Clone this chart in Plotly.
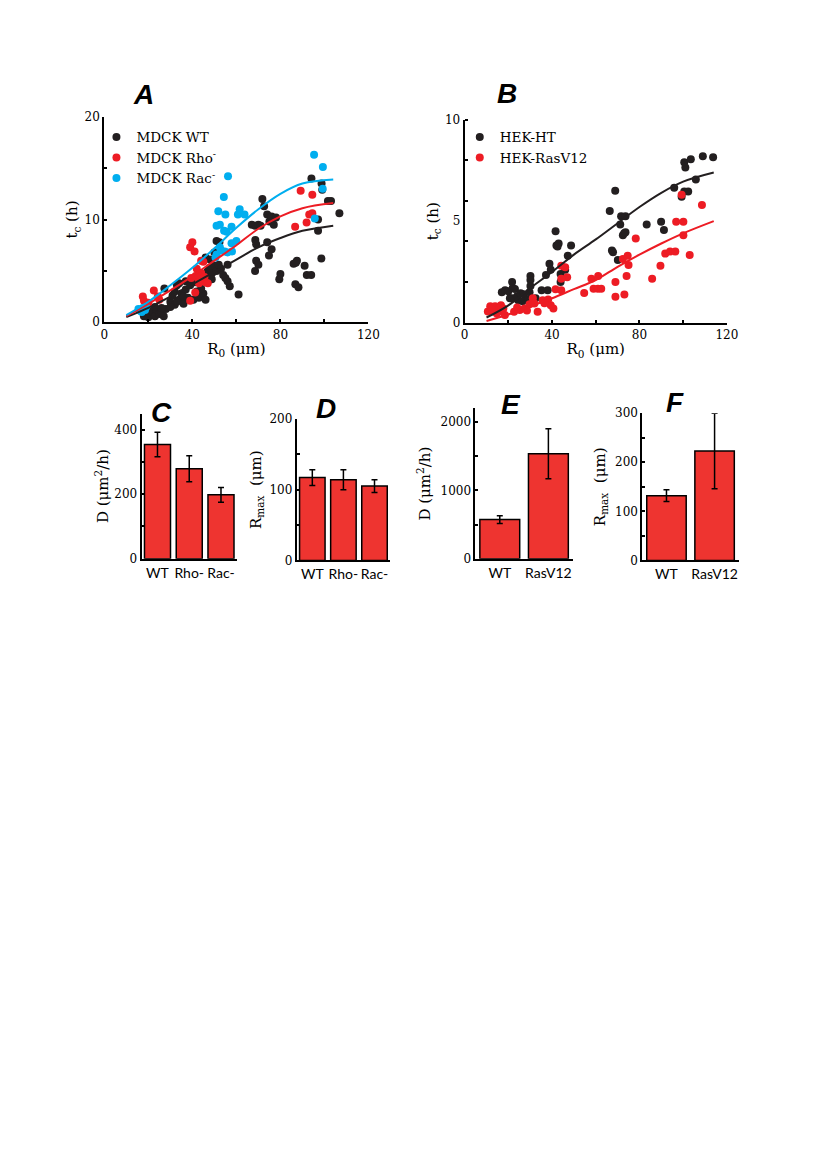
import plotly.graph_objects as go

W, H = 831, 1175
OFF = 8  # page body margin that the html adds around the figure

# ===== PANEL A: MDCK scatter data (R0 in um, tc in h) =====
wt_x = [18, 19, 20, 21, 22, 23, 24, 25, 26, 27, 28, 23, 20, 26, 27.3,
        30, 31, 32, 33, 34, 35, 36, 37, 38, 32, 34, 36, 30, 33,
        37, 39, 40, 41, 40.5, 42, 43, 45, 46, 44,
        46, 47, 48, 49, 50, 51, 52, 53, 54, 55, 56, 48, 50, 46, 51, 52.3, 51, 48.8,
        57, 56, 61,
        67, 68.5, 70, 71, 71.8, 72.6, 74, 75, 76, 77, 78, 68.6, 69, 74, 76, 74.8, 69, 70, 68.5,
        86, 87.5, 87, 91, 92, 94, 80, 79.5, 86.8, 88.2,
        94.1, 98.7, 99, 101.6, 103, 106.8, 97.1, 97.1, 98.6]
wt_y = [0.6, 0.9, 0.5, 0.8, 1.0, 0.6, 1.2, 0.8, 1.0, 0.6, 1.3, 1.5, 1.1, 1.4, 3.3,
        2.0, 2.6, 3.0, 3.6, 2.2, 2.8, 1.8, 3.2, 2.4, 1.7, 3.8, 2.5, 1.5, 2.0,
        4.0, 3.6, 4.2, 3.9, 2.2, 3.0, 2.4, 2.8, 2.2, 3.3,
        4.5, 5.0, 5.3, 4.8, 5.5, 5.0, 5.6, 5.2, 4.6, 4.3, 5.6, 6.1, 6.8, 6.3, 7.9, 7.8, 6.8, 4.2,
        3.5, 4.0, 2.7,
        9.5, 9.4, 9.5, 9.4, 12.0, 11.3, 10.5, 9.8, 10.3, 9.5, 10.2, 8.0, 7.6, 7.8, 7.1, 6.5, 6.0, 5.6, 5.0,
        5.7, 6.0, 5.8, 5.5, 4.6, 4.6, 4.7, 4.2, 3.7, 3.4,
        14.0, 13.5, 12.9, 11.8, 11.8, 10.6, 10.0, 8.9, 6.2]

rho_x = [17.5, 18, 22.5, 24.3, 20, 25, 39, 40, 41, 39.5, 41.5, 42, 43, 44, 45, 46,
         44, 43, 42.5, 39, 41.3, 47, 45.5, 45, 89.2, 94.5, 93.1, 94.5, 91.9, 86.7]
rho_y = [2.5, 2.1, 3.1, 2.5, 1.9, 2.2, 7.3, 7.8, 6.9, 4.3, 4.5, 5.2, 3.8, 4.8, 4.2, 3.9,
         6.0, 4.0, 4.6, 2.1, 2.9, 3.8, 4.4, 5.9, 12.8, 12.4, 10.5, 10.6, 9.7, 9.3]

rac_x = [15.5, 16.5, 17.5, 18.5, 19, 17,
         54.3, 56.2, 55, 51.8, 51, 52.5, 54.4, 57.8, 55.6, 50.5, 51, 52.5, 54.7, 57.8,
         60, 58, 60.7, 61.5, 63.7, 53, 56, 95.3, 99.3, 99.2, 95.6]
rac_y = [1.3, 1.1, 1.4, 1.2, 1.5, 1.0,
         12.2, 14.2, 10.5, 10.8, 9.4, 9.5, 8.9, 9.3, 8.8, 6.3, 6.6, 7.3, 6.9, 7.7,
         7.9, 6.9, 10.5, 11.0, 10.5, 7.0, 6.8, 16.3, 15.1, 13.0, 10.1]

# fitted curves
fit_a_x = [10, 20, 30, 40, 50, 60, 70, 80, 90, 104]
fit_wt_y = [0.5, 1.4, 2.5, 3.7, 4.9, 6.1, 7.3, 8.2, 8.9, 9.4]
fit_rho_y = [0.6, 1.8, 3.1, 4.5, 6.0, 7.5, 9.1, 10.3, 11.1, 11.6]
fit_rac_y = [0.7, 2.0, 3.6, 5.3, 7.2, 9.2, 11.0, 12.5, 13.5, 13.9]

# ===== PANEL B: HEK scatter data =====
ht_x = [17, 18.5, 20, 21.7, 22, 23, 20.7, 21.7, 24, 25.6, 27, 24.5, 26.5, 29, 32.5,
        30.1, 30.1, 30.1, 29.7, 35.2, 38, 37.2, 38.8, 39.4, 41.6, 42, 43, 42.5, 48.7,
        47.2, 46, 43.9, 43.9,
        66.4, 68.9, 67.4, 67.9, 70.1, 71.6, 73.6, 71.2, 72.4, 73, 73.6, 83.3, 89.9, 91.2,
        95.9, 99.3, 100.5, 102.3, 105.8, 100.5, 101, 103.5, 109, 113.7]
ht_y = [1.5, 1.6, 1.55, 2.0, 1.7, 1.65, 1.2, 1.2, 1.3, 1.45, 1.4, 1.1, 1.05, 1.15, 1.2,
        2.3, 2.1, 1.8, 1.5, 1.6, 1.6, 2.35, 2.9, 2.6, 4.5, 3.8, 3.9, 3.75, 3.8,
        3.3, 2.6, 2.4, 2.0,
        5.5, 6.5, 3.55, 3.47, 3.08, 5.24, 5.24, 4.84, 4.3, 4.4, 4.45, 4.84, 4.97, 4.56,
        6.65, 6.2, 6.46, 6.46, 7.06, 7.9, 7.65, 8.05, 8.2, 8.15]

ras_x = [10.6, 11.7, 13.2, 13.9, 15.4, 16.6, 17.2, 17.7, 14.7, 12.5, 18.4, 22.6, 25.2,
         27.4, 29.7, 31.2, 31.9, 33.4, 35.7, 38.2, 39.4, 40.6, 41.6, 44.2, 46, 46.9,
         44.2, 44.2, 24, 28.5, 36.5,
         54.7, 58, 59, 61, 62.5, 61.1, 69, 69, 72.4, 73.1, 74.1, 75, 74.6, 78.3, 85.8,
         89.6, 91.8, 94, 96.4, 96.8, 100.1, 100.1, 103, 99.3, 108.6]
ras_y = [0.55, 0.8, 0.55, 0.8, 0.7, 0.85, 0.55, 0.7, 0.45, 0.65, 0.37, 0.54, 0.62,
         0.7, 0.9, 1.2, 0.94, 0.54, 1.1, 1.14, 0.86, 0.7, 1.64, 2.8, 2.73, 2.24,
         1.6, 2.16, 0.75, 0.6, 0.95,
         1.46, 2.16, 1.67, 1.67, 1.67, 2.3, 2.0, 1.27, 3.13, 1.38, 2.3, 2.84, 3.3, 4.14, 2.16,
         2.8, 3.4, 3.5, 3.5, 4.97, 4.97, 4.3, 3.33, 6.3, 5.8]

fit_b_x = [10, 20, 30, 40, 50, 60, 70, 80, 90, 100, 114]
fit_ht_y = [0.25, 0.85, 1.7, 2.5, 3.35, 4.1, 4.9, 5.7, 6.4, 6.95, 7.4]
fit_ras_y = [0.08, 0.4, 0.8, 1.2, 1.65, 2.1, 2.75, 3.35, 3.9, 4.4, 5.0]

# ===== BAR PANELS =====
mdck_cats = ["WT", "Rho-", "Rac-"]
mdck_D = [354, 279, 198]
mdck_D_err = [38, 40, 23]
mdck_R = [117, 114, 105]
mdck_R_err = [11, 14, 9]

hek_cats = ["WT", "RasV12"]
hek_D = [573, 1537]
hek_D_err = [57, 366]
hek_R = [132, 223]
hek_R_err = [12, 77]

BLACK = "#231f20"
RED = "#ed1c24"
BLUE = "#00aeef"
BAR = "#ee3430"
SERIF = "DejaVu Serif"


def px_x(a, b):
    return [(a - OFF) / W, (b - OFF) / W]


def px_y(bottom, top):
    return [1 - (bottom - OFF) / H, 1 - (top - OFF) / H]


fig = go.Figure()

# scatter points
for xs, ys, col, name, ax, lg in [
    (wt_x, wt_y, BLACK, "MDCK WT", "", "legend"),
    (rho_x, rho_y, RED, "MDCK Rho<sup>-</sup>", "", "legend"),
    (rac_x, rac_y, BLUE, "MDCK Rac<sup>-</sup>", "", "legend"),
    (ht_x, ht_y, BLACK, "HEK-HT", "2", "legend2"),
    (ras_x, ras_y, RED, "HEK-RasV12", "2", "legend2"),
]:
    fig.add_trace(go.Scatter(x=xs, y=ys, mode="markers", name=name,
                             marker=dict(color=col, size=8),
                             xaxis="x" + ax, yaxis="y" + ax, legend=lg))

# fit lines
for xs, ys, col, ax in [
    (fit_a_x, fit_wt_y, BLACK, ""), (fit_a_x, fit_rho_y, RED, ""),
    (fit_a_x, fit_rac_y, BLUE, ""),
    (fit_b_x, fit_ht_y, BLACK, "2"), (fit_b_x, fit_ras_y, RED, "2"),
]:
    fig.add_trace(go.Scatter(x=xs, y=ys, mode="lines", showlegend=False,
                             line=dict(color=col, width=2, shape="spline"),
                             xaxis="x" + ax, yaxis="y" + ax))

# bars
for cats, vals, errs, ax in [
    (mdck_cats, mdck_D, mdck_D_err, "3"), (mdck_cats, mdck_R, mdck_R_err, "4"),
    (hek_cats, hek_D, hek_D_err, "5"), (hek_cats, hek_R, hek_R_err, "6"),
]:
    fig.add_trace(go.Bar(x=cats, y=vals, showlegend=False,
                         marker=dict(color=BAR, line=dict(color="black", width=1.5)),
                         error_y=dict(type="data", array=errs, color="black",
                                      thickness=1.5, width=3),
                         xaxis="x" + ax, yaxis="y" + ax))

base = dict(showline=True, linecolor="black", linewidth=2, showgrid=False,
            zeroline=False, tickfont=dict(family=SERIF, size=12, color="black"),
            ticks="", title_font=dict(family=SERIF, size=15, color="black"))
inside = dict(ticks="inside", ticklen=3, tickwidth=1.5, tickcolor="black")
cat_font = dict(family="Lato", size=14, color="black")
leg_font = dict(family=SERIF, size=13.5, color="black")

fig.update_layout(
    width=W, height=H, margin=dict(l=0, r=0, t=0, b=0),
    paper_bgcolor="white", plot_bgcolor="white", bargap=0.18,
    # panel A
    xaxis=dict(base, domain=px_x(102, 371), anchor="y", range=[0, 120],
               tickvals=[0, 40, 80, 120], **inside,
               minor=dict(tickvals=[20, 60, 100], **inside),
               title=dict(text="R<sub>0</sub> (μm)", standoff=3)),
    yaxis=dict(base, domain=px_y(319, 111), anchor="x", range=[0, 20],
               tickvals=[0, 10, 20], **inside,
               minor=dict(tickvals=[5, 15], **inside),
               title=dict(text="t<sub>c</sub> (h)", standoff=3)),
    # panel B
    xaxis2=dict(base, domain=px_x(469, 736), anchor="y2", range=[0, 120],
                tickvals=[0, 40, 80, 120], **inside,
                minor=dict(tickvals=[20, 60, 100], **inside),
                title=dict(text="R<sub>0</sub> (μm)", standoff=3)),
    yaxis2=dict(base, domain=px_y(319.3, 114), anchor="x2", range=[0, 10],
                tickvals=[0, 5, 10],
                minor=dict(tickvals=[2, 4, 6, 8, 10], **inside),
                title=dict(text="t<sub>c</sub> (h)", standoff=3)),
    # panel C
    xaxis3=dict(base, domain=px_x(140, 237), anchor="y3", tickfont=cat_font),
    yaxis3=dict(base, domain=px_y(558.3, 411.4), anchor="x3", range=[0, 450],
                tickvals=[0, 200, 400], **inside,
                minor=dict(tickvals=[100, 300], **inside),
                title=dict(text="D (μm<sup>2</sup>/h)", standoff=2)),
    # panel D
    xaxis4=dict(base, domain=px_x(298, 393), anchor="y4", tickfont=cat_font),
    yaxis4=dict(base, domain=px_y(560, 416.7), anchor="x4", range=[0, 200],
                tickvals=[0, 100, 200], **inside,
                minor=dict(tickvals=[50, 150], **inside),
                title=dict(text="R<sub>max</sub>  (μm)", standoff=4)),
    # panel E
    xaxis5=dict(base, domain=px_x(480, 579), anchor="y5", tickfont=cat_font),
    yaxis5=dict(base, domain=px_y(558.3, 406.2), anchor="x5", range=[0, 2200],
                tickvals=[0, 1000, 2000], **inside,
                minor=dict(tickvals=[500, 1500], **inside),
                title=dict(text="D (μm<sup>2</sup>/h)", standoff=6)),
    # panel F
    xaxis6=dict(base, domain=px_x(650, 748), anchor="y6", tickfont=cat_font),
    yaxis6=dict(base, domain=px_y(560, 411), anchor="x6", range=[0, 300],
                tickvals=[0, 100, 200, 300], **inside,
                minor=dict(tickvals=[50, 150, 250], **inside),
                title=dict(text="R<sub>max</sub>  (μm)", standoff=6)),
    legend=dict(x=86 / W, y=1 - 108 / H, xanchor="left", yanchor="top",
                bgcolor="rgba(0,0,0,0)", font=leg_font, itemwidth=30),
    legend2=dict(x=456 / W, y=1 - 108 / H, xanchor="left", yanchor="top",
                 bgcolor="rgba(0,0,0,0)", font=leg_font, itemwidth=30),
)

# panel letters
for letter, x, y in [("A", 141.7, 88), ("B", 512, 87), ("C", 160, 410),
                     ("D", 328, 406), ("E", 516, 402), ("F", 683, 400)]:
    fig.add_annotation(text=letter, x=(x - OFF) / W, y=1 - (y - OFF) / H,
                       xref="paper", yref="paper",
                       showarrow=False, xanchor="center", yanchor="middle",
                       font=dict(family="Liberation Sans", size=28, color="black",
                                 weight="bold", style="italic"))

fig.write_html("out.html")
